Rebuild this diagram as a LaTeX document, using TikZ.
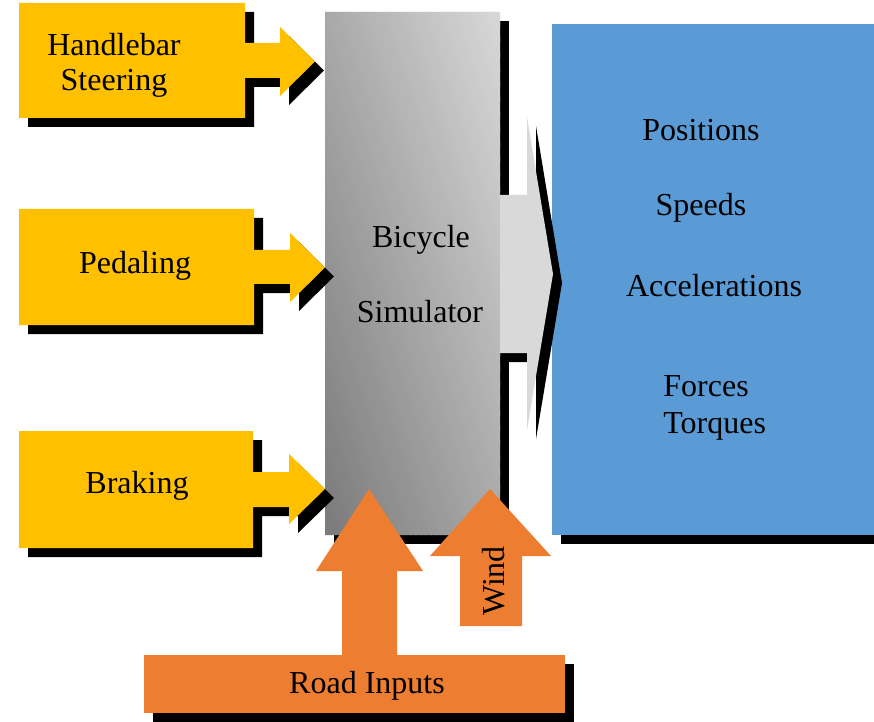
\documentclass[tikz,border=0pt]{standalone}
\usepackage{fontspec}
\setmainfont{Liberation Serif}
\definecolor{ylw}{HTML}{FFC000}
\definecolor{org}{HTML}{ED7D31}
\definecolor{blu}{HTML}{5B9BD5}
\definecolor{lgray}{HTML}{D9D9D9}
\definecolor{simlight}{HTML}{D8D8D8}
\definecolor{simdark}{HTML}{7A7A7A}
\begin{document}
\begin{tikzpicture}[x=0.5pt,y=-0.5pt,
  lbl/.style={font=\fontsize{16}{19}\selectfont, text=black, inner sep=0pt, anchor=base},
  drop/.style={fill=black, shift={(9,9)}}]
\clip (0,0) rectangle (874,722);
\fill[white] (0,0) rectangle (874,722);

% output block
\fill[drop] (552,24) rectangle (880,535);
\fill[blu] (552,24) rectangle (880,535);

% simulator block: gradient bands running parallel to the
% top-left/bottom-right diagonal, dark at bottom left, light at top right
\fill[drop] (325,12) rectangle (500,535);
\begin{scope}
  \clip (325,12) rectangle (500,535);
  \foreach \i in {0,...,69}{
    \pgfmathsetmacro{\sa}{-1+\i*2/70}
    \pgfmathsetmacro{\sb}{\sa+2/70+0.01}
    \pgfmathsetmacro{\pc}{(\i+0.5)/70*100}
    \fill[simlight!\pc!simdark] (325+\sa*175,12) -- (325+\sb*175,12)
        -- (500+\sb*175,535) -- (500+\sa*175,535) -- cycle;
  }
\end{scope}

% notched output arrow
\foreach \s/\c in {9/black,0/lgray}
  \fill[\c, shift={(\s,\s)}] (500,195) -- (527,195) -- (527,117) -- (553,274)
      -- (527,430) -- (527,353) -- (500,353) -- cycle;

% input blocks with their arrows
\foreach \s/\c in {9/black,0/ylw}{
  \fill[\c, shift={(\s,\s)}] (19,3) -- (245,3) -- (245,43) -- (280,43) -- (280,27)
      -- (315,61.5) -- (280,96) -- (280,78) -- (245,78) -- (245,118) -- (19,118) -- cycle;
  \fill[\c, shift={(\s,\s)}] (19,209) -- (254,209) -- (254,250) -- (290,250) -- (290,233)
      -- (325,267.5) -- (290,302) -- (290,284) -- (254,284) -- (254,325) -- (19,325) -- cycle;
  \fill[\c, shift={(\s,\s)}] (19,431) -- (253,431) -- (253,472) -- (289,472) -- (289,454)
      -- (325,489) -- (289,524) -- (289,507) -- (253,507) -- (253,548) -- (19,548) -- cycle;
}

% road inputs and wind
\fill[drop] (144,655) rectangle (565,713);
\fill[org] (144,655) rectangle (565,713);
\fill[org] (342,658) -- (342,571) -- (316,571) -- (369,489) -- (423,571) -- (397,571) -- (397,658) -- cycle;
\fill[org] (460,626) -- (460,556) -- (430,556) -- (490,489) -- (551,556) -- (522,556) -- (522,626) -- cycle;

% labels
\node[lbl] (hb1) at (114,56) {Handlebar};
\node[lbl] (hb2) at (114,91) {Steering};
\node[lbl] (ped) at (135,273) {Pedaling};
\node[lbl] (brk) at (137,493) {Braking};
\node[lbl] (bic) at (421,248) {Bicycle};
\node[lbl] (sim) at (420,322) {Simulator};
\node[lbl] (pos) at (701,141) {Positions};
\node[lbl] (spd) at (701,216) {Speeds};
\node[lbl] (acc) at (714,296) {Accelerations};
\node[lbl, anchor=base west] (frc) at (663,396) {Forces};
\node[lbl, anchor=base west] (trq) at (663,433) {Torques};
\node[lbl] (road) at (367,693) {Road Inputs};
\node[lbl, rotate=90] (wnd) at (504,581) {Wind};
\end{tikzpicture}
\end{document}
